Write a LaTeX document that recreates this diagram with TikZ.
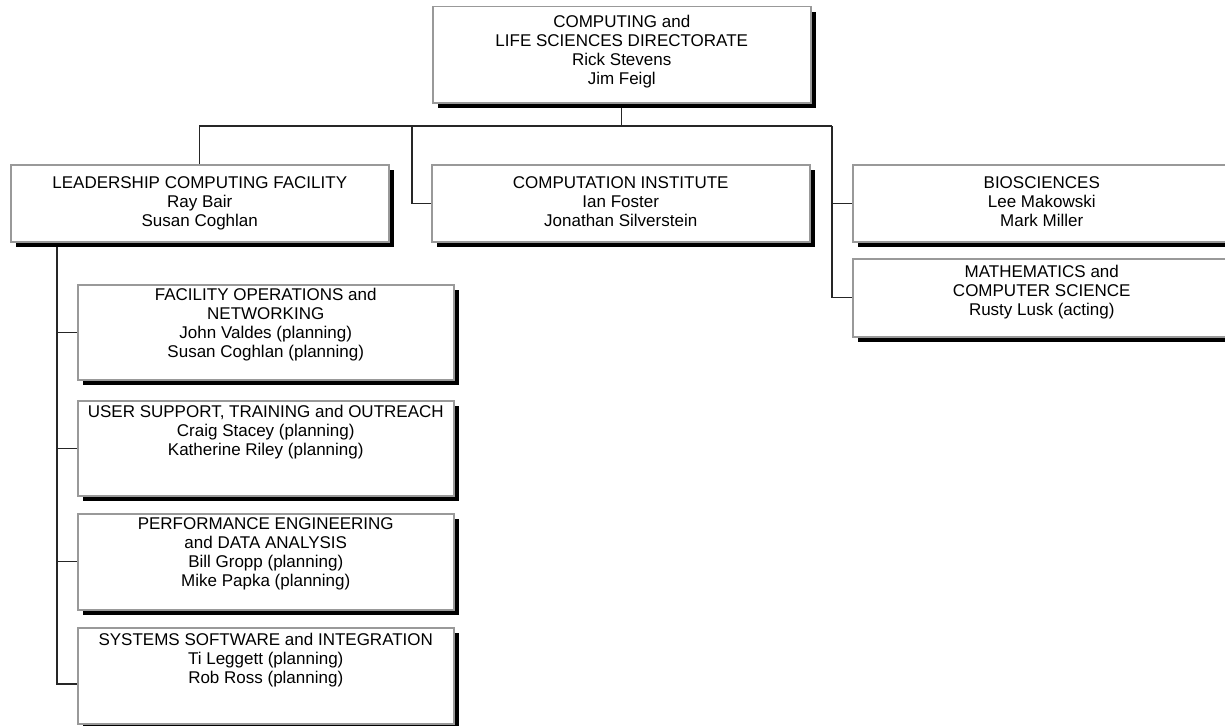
\documentclass[tikz,border=0pt]{standalone}
\usepackage{fontspec}
\setmainfont{Liberation Sans}
\usepackage{tikz}
\usetikzlibrary{positioning,calc,shadows,backgrounds}
\definecolor{frame}{HTML}{999999}
\definecolor{wire}{HTML}{262626}

\begin{document}
\begin{tikzpicture}[x=1pt, y=-1pt,
  unit/.style={draw=frame, line width=1.5pt, fill=white, anchor=north west, inner sep=0pt,
    minimum width=378pt, minimum height=77pt,
    drop shadow={shadow xshift=5pt, shadow yshift=-5pt, opacity=1, fill=black}},
  txt/.style={align=center, inner sep=0pt, font=\fontsize{17}{19}\selectfont},
  link/.style={draw=wire, line width=1.4pt}]
  \useasboundingbox (0,0) rectangle (1225,725);

  % boxes
  \node[unit, minimum height=96pt] (dir) at (432,6) {};
  \node[unit] (lcf) at (10,164) {};
  \node[unit] (ci) at (431,164) {};
  \node[unit] (bio) at (852,164) {};
  \node[unit, minimum height=78pt] (mcs) at (852,258) {};
  \node[unit, minimum width=376pt, minimum height=95pt] (fops) at (77,284) {};
  \node[unit, minimum width=376pt, minimum height=95pt] (user) at (77,400) {};
  \node[unit, minimum width=376pt, minimum height=96pt] (perf) at (77,513) {};
  \node[unit, minimum width=376pt, minimum height=96pt] (sys) at (77,627) {};

  % junctions
  \coordinate (hub) at (621,126);
  \coordinate (ci-drop) at (412,126);
  \coordinate (right-drop) at (832,126);
  \coordinate (spine) at (57,241);
  \coordinate (sys-tap) at ($(sys.north west)+(0,57)$);

  % connectors
  \begin{scope}[on background layer]
  \draw[link] (dir.south) -- (dir.south |- hub);
  \draw[link] (lcf.north) |- (right-drop);
  \draw[link] (ci-drop) |- (ci.west);
  \draw[link] (right-drop) |- (mcs.west);
  \draw[link] (right-drop |- bio.west) -- (bio.west);
  \draw[link] (lcf.south -| spine) -- (spine |- sys-tap) -- (sys-tap);
  \foreach \u in {fops,user,perf}
    \draw[link] (spine |- \u.west) -- (\u.west);
  \end{scope}

  % texts
  \node[txt, below=9pt of dir.north] (dir-t) {COMPUTING and\\LIFE SCIENCES DIRECTORATE\\Rick Stevens\\Jim Feigl};
  \node[txt, below=12pt of lcf.north] (lcf-t) {LEADERSHIP COMPUTING FACILITY\\Ray Bair\\Susan Coghlan};
  \node[txt, below=12pt of ci.north] (ci-t) {COMPUTATION INSTITUTE\\Ian Foster\\Jonathan Silverstein};
  \node[txt, below=12pt of bio.north] (bio-t) {BIOSCIENCES\\Lee Makowski\\Mark Miller};
  \node[txt, below=7pt of mcs.north] (mcs-t) {MATHEMATICS and\\COMPUTER SCIENCE\\Rusty Lusk (acting)};
  \node[txt, below=4pt of fops.north] (fops-t) {FACILITY OPERATIONS and\\NETWORKING\\John Valdes (planning)\\Susan Coghlan (planning)};
  \node[txt, below=5pt of user.north] (user-t) {USER SUPPORT, TRAINING and OUTREACH\\Craig Stacey (planning)\\Katherine Riley (planning)};
  \node[txt, below=4pt of perf.north] (perf-t) {PERFORMANCE ENGINEERING\\and DATA ANALYSIS\\Bill Gropp (planning)\\Mike Papka (planning)};
  \node[txt, below=6pt of sys.north] (sys-t) {SYSTEMS SOFTWARE and INTEGRATION\\Ti Leggett (planning)\\Rob Ross (planning)};
\end{tikzpicture}
\end{document}
